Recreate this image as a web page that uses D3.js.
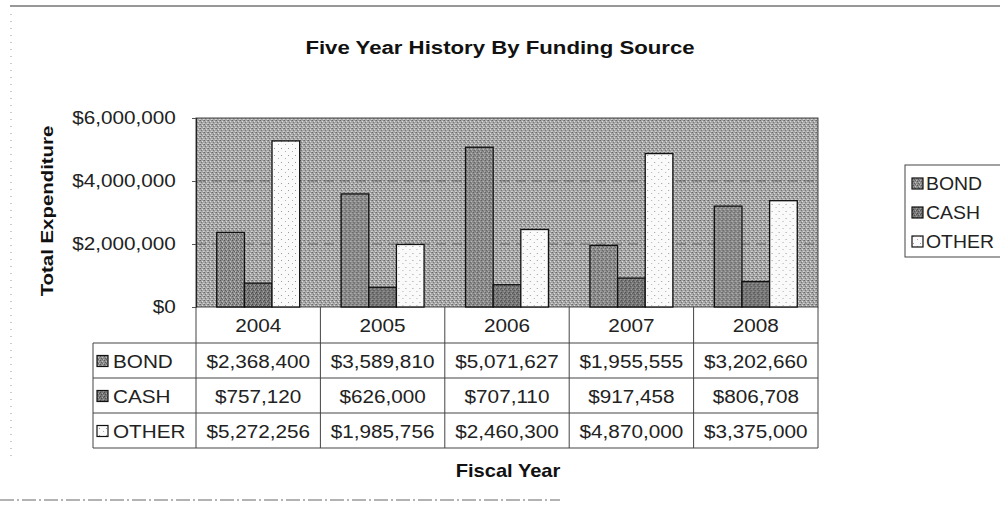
<!DOCTYPE html>
<html>
<head>
<meta charset="utf-8">
<script src="https://cdn.jsdelivr.net/npm/d3@7"></script>
<style>
  html, body { margin: 0; padding: 0; background: #fff; }
  svg { display: block; font-family: "Liberation Sans", Arial, sans-serif; }
</style>
</head>
<body>
<svg id="chart" width="1000" height="508"></svg>
<script>
// Fiscal years and funding sources
const years = ["2004", "2005", "2006", "2007", "2008"];
const seriesNames = ["BOND", "CASH", "OTHER"];
const bond  = [2368400, 3589810, 5071627, 1955555, 3202660];
const cash  = [757120, 626000, 707110, 917458, 806708];
const other = [5272256, 1985756, 2460300, 4870000, 3375000];
const yTicks = [0, 2000000, 4000000, 6000000];

const seriesValues = [bond, cash, other];
const fills = { BOND: "url(#patBond)", CASH: "url(#patCash)", OTHER: "url(#patOther)" };

const svg = d3.select("#chart");
const W = 1000, H = 508;

// Layout of the plot and data table
const plot = { left: 196, right: 818, top: 118, bottom: 307 };
const headerBottom = 343;
const rowH = 35;
const tableLeft = 93;
const SX = 1.12;   // slightly wide lettering

// Text placed with a horizontal stretch
function stext(g, x, y, str, o = {}) {
  return g.append("text")
    .attr("transform", `translate(${x},${y}) rotate(${o.rotate || 0}) scale(${o.sx || SX},1)`)
    .attr("text-anchor", o.anchor || "start")
    .attr("font-size", o.size || 18.5)
    .attr("font-weight", o.weight || "normal")
    .attr("fill", o.fill || "#222")
    .text(str);
}

// Dithered fills for the plot and bars
const defs = svg.append("defs");
function dither(id, base, dots, size) {
  const p = defs.append("pattern").attr("id", id)
    .attr("width", size).attr("height", size)
    .attr("patternUnits", "userSpaceOnUse");
  p.append("rect").attr("width", size).attr("height", size).attr("fill", base);
  dots.forEach(([x, y, c]) => p.append("rect").attr("x", x).attr("y", y)
    .attr("width", 1).attr("height", 1).attr("fill", c));
}
dither("patBg", "#a6a6a6", [[0,0,"#6a6a6a"],[2,1,"#dcdcdc"],[1,2,"#767676"],[3,3,"#d0d0d0"],[3,0,"#868686"],[0,3,"#c4c4c4"]], 4);
dither("patBond", "#8c8c8c", [[0,0,"#585858"],[2,1,"#c0c0c0"],[1,2,"#5e5e5e"],[3,3,"#b8b8b8"],[2,3,"#686868"]], 4);
dither("patCash", "#787878", [[0,0,"#484848"],[2,1,"#a8a8a8"],[1,2,"#4e4e4e"],[3,3,"#a0a0a0"],[3,1,"#585858"]], 4);
dither("patOther", "#fafafa", [[1,1,"#9a9a9a"],[5,4,"#b0b0b0"]], 7);

// Scales
const y = d3.scaleLinear().domain([0, 6000000]).range([plot.bottom, plot.top]);
const x = d3.scaleBand().domain(years).range([plot.left, plot.right]).padding(0);
const xs = d3.scaleBand().domain(seriesNames).range([0, x.bandwidth()])
  .paddingInner(0).paddingOuter(0.75);

// Scan edge lines around the sheet
svg.append("line").attr("x1", 10).attr("x2", W).attr("y1", 6).attr("y2", 6)
  .attr("stroke", "#333").attr("stroke-width", 1.2);
svg.append("line").attr("x1", 11).attr("x2", 11).attr("y1", 14).attr("y2", 460)
  .attr("stroke", "#999").attr("stroke-width", 1).attr("stroke-dasharray", "1,6");
svg.append("line").attr("x1", 0).attr("x2", 560).attr("y1", 500).attr("y2", 500)
  .attr("stroke", "#666").attr("stroke-width", 1).attr("stroke-dasharray", "14,3,2,3");

// Title
stext(svg, 500, 54, "Five Year History By Funding Source",
  { anchor: "middle", size: 18.5, weight: "bold", fill: "#111", sx: 1.2 });

// Plot background
svg.append("rect").attr("x", plot.left).attr("y", plot.top)
  .attr("width", plot.right - plot.left).attr("height", plot.bottom - plot.top)
  .attr("fill", "url(#patBg)").attr("stroke", "#444").attr("stroke-width", 1);

// Gridlines
svg.append("g").selectAll("line").data(yTicks.filter(d => d > 0 && d < 6000000)).join("line")
  .attr("x1", plot.left).attr("x2", plot.right)
  .attr("y1", d => y(d)).attr("y2", d => y(d))
  .attr("stroke", "#3a3a3a").attr("stroke-width", 1).attr("stroke-dasharray", "10,6")
  .attr("opacity", 0.55);

// Bars
const groups = svg.append("g").selectAll("g").data(years).join("g")
  .attr("transform", d => `translate(${x(d)},0)`);
groups.selectAll("rect")
  .data((yr, i) => seriesNames.map((s, k) => ({ s, v: seriesValues[k][i] })))
  .join("rect")
  .attr("x", d => xs(d.s)).attr("width", xs.bandwidth())
  .attr("y", d => y(d.v)).attr("height", d => y(0) - y(d.v))
  .attr("fill", d => fills[d.s]).attr("stroke", "#111").attr("stroke-width", 1.3);

// Y axis
const yAxis = d3.axisLeft(y).tickValues(yTicks).tickSize(4).tickPadding(14)
  .tickFormat(d => "$" + d3.format(",")(d));
const gy = svg.append("g").attr("transform", `translate(${plot.left},0)`).call(yAxis);
gy.select(".domain").attr("stroke", "#222");
gy.selectAll(".tick line").attr("stroke", "#555");
gy.selectAll("text").attr("font-size", 18.5).attr("fill", "#222")
  .attr("font-family", "Liberation Sans, Arial, sans-serif")
  .attr("transform", `scale(${SX},1)`);

// Y axis title
stext(svg, 53, 211, "Total Expenditure",
  { anchor: "middle", size: 17, weight: "bold", fill: "#111", rotate: -90, sx: 1.2 });

// Data table
const table = svg.append("g");
const lineStyle = s => s.attr("stroke", "#444").attr("stroke-width", 1);
// header row with years
years.forEach(yr => stext(table, x(yr) + x.bandwidth() / 2, 332, yr, { anchor: "middle" }));
// vertical column lines
table.selectAll("line.col").data(years.concat(["end"])).join("line").attr("class", "col")
  .attr("x1", d => d === "end" ? plot.right : x(d)).attr("x2", d => d === "end" ? plot.right : x(d))
  .attr("y1", plot.bottom).attr("y2", headerBottom + rowH * 3)
  .call(lineStyle);
// label column left edge
table.append("line").attr("x1", tableLeft).attr("x2", tableLeft)
  .attr("y1", headerBottom).attr("y2", headerBottom + rowH * 3).call(lineStyle);
// horizontal lines
table.selectAll("line.row").data([0, 1, 2, 3]).join("line").attr("class", "row")
  .attr("x1", tableLeft).attr("x2", plot.right)
  .attr("y1", d => headerBottom + d * rowH).attr("y2", d => headerBottom + d * rowH)
  .call(lineStyle);
// rows
seriesNames.forEach((s, k) => {
  const cy = headerBottom + k * rowH + rowH / 2;
  table.append("rect").attr("x", tableLeft + 4).attr("y", cy - 5)
    .attr("width", 11).attr("height", 11)
    .attr("fill", fills[s]).attr("stroke", "#111").attr("stroke-width", 1.2);
  stext(table, tableLeft + 20, cy + 7, s);
  seriesValues[k].forEach((v, i) =>
    stext(table, x(years[i]) + x.bandwidth() / 2, cy + 7, "$" + d3.format(",")(v), { anchor: "middle" }));
});

// X axis title
stext(svg, 508, 477, "Fiscal Year",
  { anchor: "middle", size: 17.5, weight: "bold", fill: "#111", sx: 1.15 });

// Legend
const legend = svg.append("g").attr("transform", "translate(905,165)");
legend.append("rect").attr("x", 0).attr("y", 0).attr("width", 110).attr("height", 92)
  .attr("fill", "#fff").attr("stroke", "#444").attr("stroke-width", 1);
seriesNames.forEach((s, k) => {
  const cy = 18 + k * 29;
  legend.append("rect").attr("x", 7).attr("y", cy - 5).attr("width", 11).attr("height", 11)
    .attr("fill", fills[s]).attr("stroke", "#111").attr("stroke-width", 1.2);
  stext(legend, 21, cy + 7, s, { sx: 1.05 });
});
</script>
</body>
</html>
